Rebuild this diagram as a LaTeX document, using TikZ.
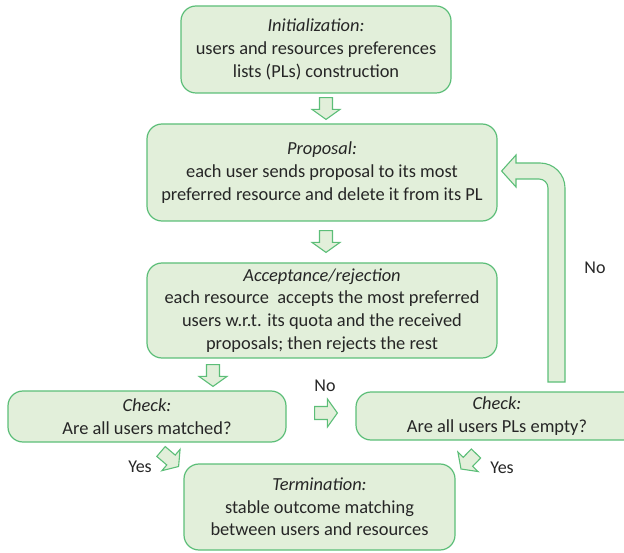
\documentclass[tikz,border=0pt]{standalone}
\usepackage{fontspec}
\setmainfont{Carlito}
\usetikzlibrary{calc}
\definecolor{boxfill}{RGB}{226,239,218}
\definecolor{boxline}{RGB}{92,190,120}
\definecolor{txt}{RGB}{38,38,38}
\tikzset{
  box/.style={draw=boxline, fill=boxfill, line width=1.2pt, rounded corners=15pt,
    align=center, text=txt, inner sep=0pt, font=\fontsize{18.4}{22.7}\selectfont},
  barrowstyle/.style={draw=boxline, fill=boxfill, line width=1.1pt, line join=miter},
  lbl/.style={text=txt, font=\fontsize{18}{20}\selectfont, inner sep=0pt}
}
\newcommand\barrow[2]{%
  \path let \p1=#1, \p2=#2, \n1={atan2(\y2-\y1,\x2-\x1)}, \n2={veclen(\x2-\x1,\y2-\y1)} in
    \pgfextra{\xdef\bang{\n1}\xdef\blen{\n2}\xdef\bx{\x1}\xdef\by{\y1}};
  \begin{scope}[shift={(\bx,\by)}, rotate=\bang]
    \draw[barrowstyle] (0,-6.5) -- (\blen-10pt,-6.5) -- (\blen-10pt,-14) -- (\blen,0)
      -- (\blen-10pt,14) -- (\blen-10pt,6.5) -- (0,6.5) -- cycle;
  \end{scope}}
\begin{document}
\begin{tikzpicture}[x=1pt,y=1pt]
\useasboundingbox (0,0) rectangle (624,-553);
\clip (0,0) rectangle (624,-553);
\node[box, minimum width=270pt, minimum height=87pt] (init) at (316,-49.5)
  {\textit{Initialization:}\\users and resources preferences\\lists (PLs) construction};
\node[box, minimum width=350pt, minimum height=97pt] (prop) at (322,-172.5)
  {\textit{Proposal:}\\each user sends proposal to its most\\preferred resource and delete it from its PL};
\node[box, minimum width=350pt, minimum height=95pt] (acc) at (322,-310.5)
  {\textit{Acceptance/rejection}\\each resource\ \ accepts the most preferred\\users w.r.t. its quota and the received\\proposals; then rejects the rest};
\node[box, minimum width=278pt, minimum height=51pt] (chk1) at (147,-416.5)
  {\textit{Check:}\\Are all users matched?};
\node[box, minimum width=282pt, minimum height=48pt] (chk2) at (497,-416)
  {\textit{Check:}\\Are all users PLs empty?};
\node[box, minimum width=271pt, minimum height=86pt] (term) at (319.5,-507)
  {\textit{Termination:}\\stable outcome matching\\between users and resources};
% block arrows
\coordinate (a1s) at ($(init.south)+(10,-4)$);
\coordinate (a1e) at ($(prop.north)+(4,4)$);
\barrow{(a1s)}{(a1e)}
\coordinate (a2s) at ($(prop.south)+(4,-9)$);
\coordinate (a2e) at ($(acc.north)+(4,10)$);
\barrow{(a2s)}{(a2e)}
\coordinate (a3s) at ($(acc.south)+(-109,-6)$);
\coordinate (a3e) at ($(chk1.north)+(66,4)$);
\barrow{(a3s)}{(a3e)}
\coordinate (a4s) at ($(chk1.east)+(28,3.5)$);
\coordinate (a4e) at ($(chk2.west)+(-18,3)$);
\barrow{(a4s)}{(a4e)}
\coordinate (a5s) at (161,-451.5);
\coordinate (a5e) at (178.6,-466.5);
\barrow{(a5s)}{(a5e)}
\coordinate (a6s) at (476,-453.5);
\coordinate (a6e) at (461,-469);
\barrow{(a6s)}{(a6e)}
% loop arrow from chk2 back to prop
\draw[barrowstyle] (548,-382) -- (565,-382) -- (565,-188) arc[start angle=0,end angle=90,radius=25]
  -- (516,-163) -- (516,-155) -- ($(prop.east)+(4,1.5)$) -- (516,-187) -- (516,-179)
  -- (539,-179) arc[start angle=90,end angle=0,radius=9] -- cycle;
% labels
\node[lbl] (no1) at (325,-386) {No};
\node[lbl] (no2) at (595,-268) {No};
\node[lbl] (yes1) at (140,-467) {Yes};
\node[lbl] (yes2) at (502,-468) {Yes};
\end{tikzpicture}
\end{document}
